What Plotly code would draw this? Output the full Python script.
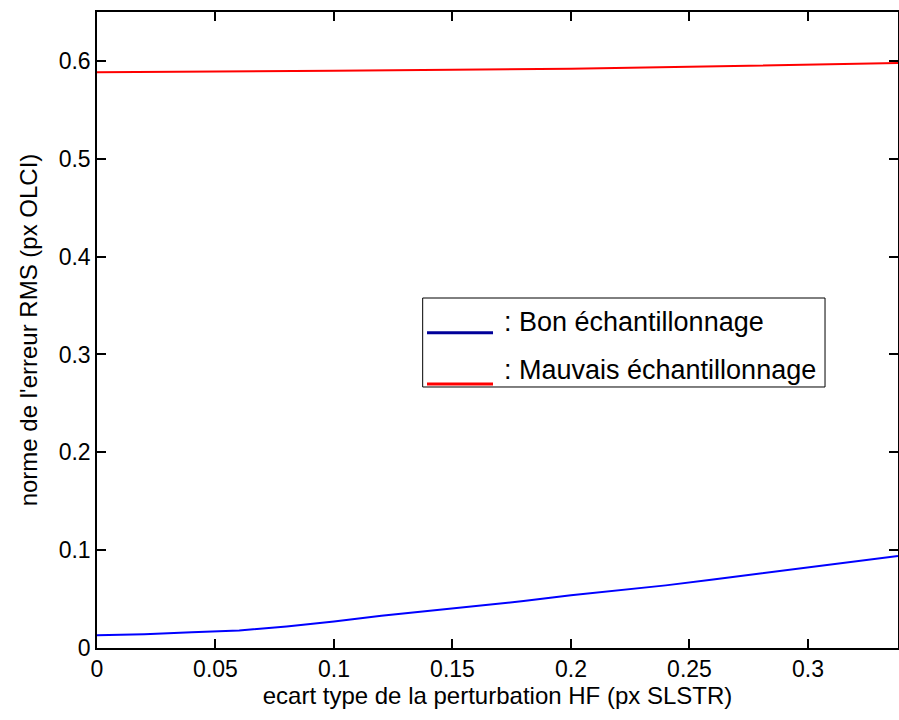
import plotly.graph_objects as go

# ---- data ----
x_bon = [0, 0.02, 0.04, 0.06, 0.08, 0.10, 0.12, 0.14, 0.16, 0.18, 0.20, 0.22, 0.24, 0.26, 0.28, 0.30, 0.32, 0.338]
y_bon = [0.013, 0.014, 0.016, 0.018, 0.022, 0.027, 0.033, 0.038, 0.043, 0.048, 0.054, 0.059, 0.064, 0.070, 0.076, 0.082, 0.088, 0.094]

x_mauvais = [0, 0.05, 0.10, 0.15, 0.20, 0.25, 0.30, 0.338]
y_mauvais = [0.5885, 0.589, 0.590, 0.591, 0.592, 0.594, 0.596, 0.598]

x_tickvals = [0, 0.05, 0.1, 0.15, 0.2, 0.25, 0.3]
x_ticktext = ["0", "0.05", "0.1", "0.15", "0.2", "0.25", "0.3"]
y_tickvals = [0, 0.1, 0.2, 0.3, 0.4, 0.5, 0.6]
y_ticktext = ["0", "0.1", "0.2", "0.3", "0.4", "0.5", "0.6"]

legend_labels = [": Bon échantillonnage", ": Mauvais échantillonnage"]

FONT = "Liberation Sans, Arial, sans-serif"

fig = go.Figure()
fig.add_trace(go.Scatter(x=x_bon, y=y_bon, mode="lines", name=legend_labels[0],
                         line=dict(color="#0000FF", width=2), showlegend=False))
fig.add_trace(go.Scatter(x=x_mauvais, y=y_mauvais, mode="lines", name=legend_labels[1],
                         line=dict(color="#FF0000", width=2), showlegend=False))

axis_common = dict(showline=True, linecolor="black", linewidth=1.5, mirror="ticks",
                   ticks="inside", ticklen=9, tickcolor="black", tickwidth=1.5,
                   showgrid=False, zeroline=False, automargin=False,
                   tickfont=dict(family=FONT, size=23, color="black"))

fig.update_xaxes(range=[0, 0.338], tickvals=x_tickvals, ticktext=x_ticktext,
                 title=dict(text="ecart type de la perturbation HF (px SLSTR)",
                            font=dict(family=FONT, size=24, color="black"), standoff=4),
                 **axis_common)
fig.update_yaxes(range=[0, 0.65], tickvals=y_tickvals, ticktext=y_ticktext,
                 title=dict(text="norme de l'erreur RMS (px OLCI)",
                            font=dict(family=FONT, size=24, color="black"), standoff=14),
                 **axis_common)

# manual MATLAB-style legend
shapes = [
    dict(type="rect", xref="paper", yref="paper", x0=0.4066, x1=0.9089, y0=0.4104, y1=0.5503,
         line=dict(color="black", width=1), fillcolor="white", layer="above"),
    dict(type="line", xref="paper", yref="paper", x0=0.412, x1=0.4944, y0=0.4958, y1=0.4958,
         line=dict(color="#000099", width=3), layer="above"),
    dict(type="line", xref="paper", yref="paper", x0=0.412, x1=0.4944, y0=0.4151, y1=0.4151,
         line=dict(color="#FF0000", width=3), layer="above"),
]
annotations = [
    dict(xref="paper", yref="paper", x=0.5056, y=0.5126, xanchor="left", yanchor="middle",
         text=legend_labels[0], showarrow=False, font=dict(family=FONT, size=27, color="black")),
    dict(xref="paper", yref="paper", x=0.5056, y=0.4371, xanchor="left", yanchor="middle",
         text=legend_labels[1], showarrow=False, font=dict(family=FONT, size=27, color="black")),
]

fig.update_layout(width=899, height=720, margin=dict(l=97, r=1, t=12, b=72),
                  paper_bgcolor="white", plot_bgcolor="white",
                  shapes=shapes, annotations=annotations, showlegend=False)

fig.write_html("out.html", config={"displayModeBar": False},
               post_script="document.body.style.margin='0';document.body.style.overflow='hidden';")
